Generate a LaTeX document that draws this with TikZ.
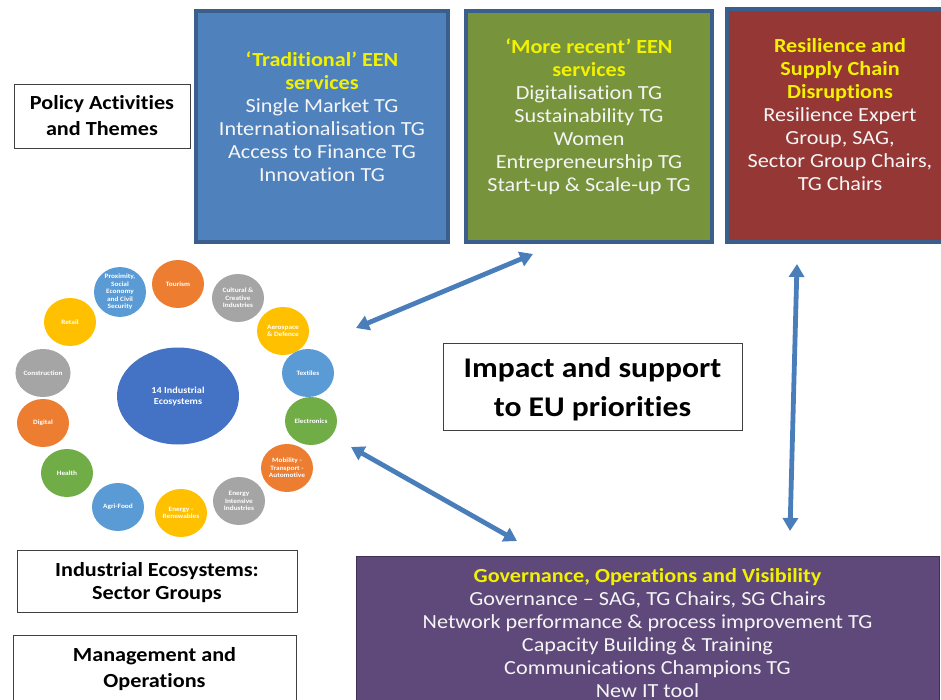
\documentclass[tikz,border=0pt]{standalone}
\usepackage{fontspec}
\setmainfont{Carlito}[FakeStretch=1.11, Ligatures=NoCommon]
\usetikzlibrary{arrows.meta,shapes.geometric}
\definecolor{edgeblue}{HTML}{3A5F8C}
\definecolor{fillblue}{HTML}{4F81BD}
\definecolor{fillgreen}{HTML}{77933C}
\definecolor{fillred}{HTML}{953735}
\definecolor{fillpurple}{HTML}{5F497A}
\definecolor{edgepurple}{HTML}{3F3151}
\definecolor{ttlyellow}{HTML}{F2F200}
\definecolor{arrowblue}{HTML}{4A7EBB}
\definecolor{ecoblue}{HTML}{5B9BD5}
\definecolor{ecoorange}{HTML}{ED7D31}
\definecolor{ecogray}{HTML}{A5A5A5}
\definecolor{ecoyellow}{HTML}{FFC000}
\definecolor{ecogreen}{HTML}{70AD47}
\definecolor{ecocentre}{HTML}{4472C4}
\newcommand{\ylw}[1]{{\color{ttlyellow}\bfseries #1}}
\begin{document}
\begin{tikzpicture}[x=1pt,y=-1pt,
  colbox/.style={draw=edgeblue, line width=3.5pt, inner sep=0pt},
  wbox/.style={draw=black!75, line width=0.8pt, fill=white, inner sep=0pt},
  boxtxt/.style={text=white!96!black, font=\fontsize{20}{23}\selectfont, align=center, inner sep=0pt},
  labtxt/.style={text=black, font=\fontsize{20}{26}\selectfont\bfseries, align=center, inner sep=0pt},
  eco/.style={ellipse, minimum width=52pt, minimum height=48pt, inner sep=0pt, text=white, font=\fontsize{6.6}{7.4}\selectfont\bfseries, align=center},
  arr/.style={draw=arrowblue, line width=4.8pt, {Triangle[width=15pt,length=13pt]}-{Triangle[width=15pt,length=13pt]}}
]
\useasboundingbox (0,0) rectangle (941,700);

% coloured boxes
\node[colbox, fill=fillblue, minimum width=252pt, minimum height=231pt] (trad) at (322,126.5) {};
\node[colbox, fill=fillgreen, minimum width=246pt, minimum height=231pt] (recent) at (589,126.5) {};
\node[colbox, fill=fillred, minimum width=224pt, minimum height=233pt] (resil) at (839,125.5) {};
\node[draw=edgepurple, line width=1pt, fill=fillpurple, inner sep=0pt, minimum width=583pt, minimum height=160pt] (gov) at (647.5,636) {};

\node[boxtxt] (tradtxt) at (322,116.5) {\ylw{‘Traditional’ EEN}\\\ylw{services}\\Single Market TG\\Internationalisation TG\\Access to Finance TG\\Innovation TG};
\node[boxtxt] (recenttxt) at (589,117) {\ylw{‘More recent’ EEN}\\\ylw{services}\\Digitalisation TG\\Sustainability TG\\Women\\Entrepreneurship TG\\Start-up \& Scale-up TG};
\node[boxtxt] (resiltxt) at (840,115) {\ylw{Resilience and}\\\ylw{Supply Chain}\\\ylw{Disruptions}\\Resilience Expert\\Group, SAG,\\Sector Group Chairs,\\TG Chairs};
\node[boxtxt, anchor=north] (govtxt) at (647.5,568) {\ylw{Governance, Operations and Visibility}\\Governance – SAG, TG Chairs, SG Chairs\\Network performance \& process improvement TG\\Capacity Building \& Training\\Communications Champions TG\\New IT tool};

% white label boxes
\node[wbox, minimum width=176pt, minimum height=64pt] (policy) at (102,116) {};
\node[labtxt] (policytxt) at (102,116) {Policy Activities\\and Themes};
\node[wbox, minimum width=299pt, minimum height=87pt] (impact) at (592.5,386.5) {};
\node[text=black, font=\fontsize{28.5}{39}\selectfont\bfseries, align=center, inner sep=0pt] (impacttxt) at (592.5,389) {Impact and support\\to EU priorities};
\node[wbox, minimum width=280pt, minimum height=62pt] (indeco) at (157,581) {};
\node[labtxt, font=\fontsize{20}{23}\selectfont\bfseries] (indecotxt) at (157,583) {Industrial Ecosystems:\\Sector Groups};
\node[wbox, minimum width=283pt, minimum height=80pt] (mgmt) at (154.5,675) {};
\node[labtxt] (mgmttxt) at (154.5,669) {Management and\\Operations};

% ecosystem ring
\node[ellipse, fill=ecocentre, minimum width=122pt, minimum height=97pt, inner sep=0pt, text=white, font=\fontsize{9.2}{11}\selectfont\bfseries, align=center] (centre) at (178,396) {14 Industrial\\Ecosystems};
\node[eco, fill=ecoblue] (prox) at (120,292) {Proximity,\\Social\\Economy\\and Civil\\Security};
\node[eco, fill=ecoorange] (tour) at (178,284) {Tourism};
\node[eco, fill=ecogray] (cult) at (238,298) {Cultural \&\\Creative\\Industries};
\node[eco, fill=ecoyellow] (aero) at (283,331) {Aerospace\\\& Defence};
\node[eco, fill=ecoblue] (text) at (308,373) {Textiles};
\node[eco, fill=ecogreen] (elec) at (311,421) {Electronics};
\node[eco, fill=ecoorange] (mob) at (287,468) {Mobility -\\Transport -\\Automotive};
\node[eco, fill=ecogray] (eii) at (239,501) {Energy\\Intensive\\Industries};
\node[eco, fill=ecoyellow] (ren) at (181,513) {Energy -\\Renewables};
\node[eco, fill=ecoblue] (agri) at (118,507) {Agri-Food};
\node[eco, fill=ecogreen] (health) at (67,473) {Health};
\node[eco, fill=ecoorange] (digi) at (43,423) {Digital};
\node[eco, fill=ecogray] (cons) at (43,373) {Construction};
\node[eco, fill=ecoyellow] (retail) at (70,322) {Retail};

% arrows
\coordinate (a1s) at (356,328);
\coordinate (a1e) at (533,254);
\coordinate (a2s) at (797,264);
\coordinate (a2e) at (790,531);
\coordinate (a3s) at (351,447);
\coordinate (a3e) at (517,541);
\draw[arr] (a1s) -- (a1e);
\draw[arr] (a2s) -- (a2e);
\draw[arr] (a3s) -- (a3e);
\end{tikzpicture}
\end{document}
